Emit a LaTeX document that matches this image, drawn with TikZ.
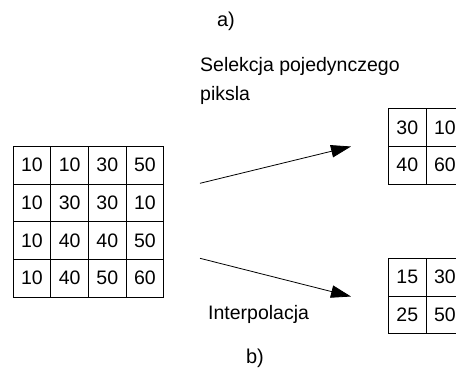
\documentclass[tikz,border=0pt]{standalone}
\usepackage{fontspec}
\setmainfont{Liberation Sans}
\usetikzlibrary{arrows.meta}
\begin{document}
\begin{tikzpicture}[x=1pt,y=-1pt,
  cell/.style={draw=black,line width=0.9pt,minimum width=37.65pt,minimum height=37.65pt,
    inner sep=0pt,anchor=north west,font=\fontsize{19.5}{22}\selectfont},
  label/.style={inner sep=0pt,anchor=base west,font=\fontsize{19.5}{22}\selectfont},
  tag/.style={inner sep=0pt,anchor=base,font=\fontsize{20}{22}\selectfont},
  link/.style={line width=0.8pt,-{Triangle[length=20pt,width=12.5pt]}}]
\clip (0,0) rectangle (456,372);
\fill[white] (0,0) rectangle (456,372);
% input image 4x4
\def\cw{37.65}
\foreach \r/\row in {1/{10,10,30,50},2/{10,30,30,10},3/{10,40,40,50},4/{10,40,50,60}}{
  \foreach \v [count=\c] in \row {
    \node[cell] (L-\r-\c) at ({12.7+(\c-1)*\cw},{146+(\r-1)*\cw}) {\v};
  }
}
% selected pixels
\foreach \r/\row in {1/{30,10},2/{40,60}}{
  \foreach \v [count=\c] in \row {
    \node[cell] (A-\r-\c) at ({388+(\c-1)*\cw},{108.3+(\r-1)*\cw}) {\v};
  }
}
% interpolated pixels
\foreach \r/\row in {1/{15,30},2/{25,50}}{
  \foreach \v [count=\c] in \row {
    \node[cell] (B-\r-\c) at ({388+(\c-1)*\cw},{258+(\r-1)*\cw}) {\v};
  }
}
% arrows
\coordinate (t1) at (200,183.3);
\coordinate (h1) at (351,146.5);
\coordinate (t2) at (200,258.3);
\coordinate (h2) at (351,296.5);
\draw[link] (t1) -- (h1);
\draw[link] (t2) -- (h2);
% labels
\node[tag] (ta) at (226,27) {a)};
\node[label] (sel1) at (200,71) {Selekcja pojedynczego};
\node[label] (sel2) at (200,100) {piksla};
\node[label] (interp) at (208,319) {Interpolacja};
\node[tag] (tb) at (255,363) {b)};
\end{tikzpicture}
\end{document}
